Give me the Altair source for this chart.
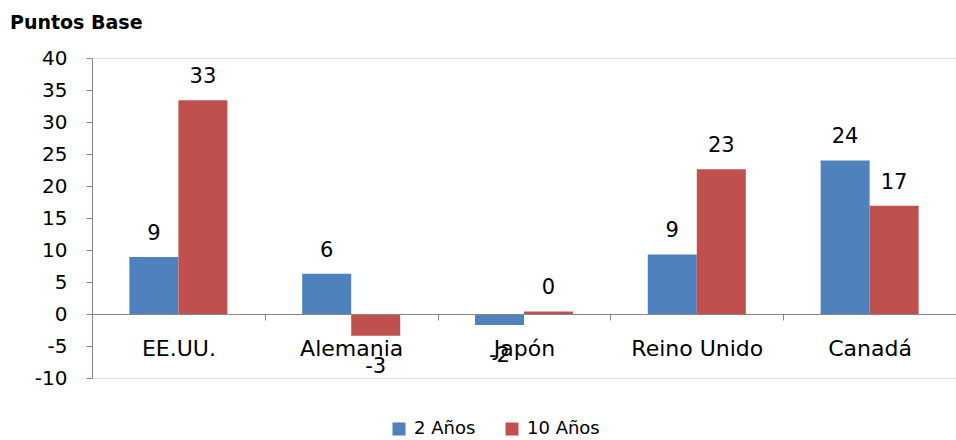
import altair as alt
import pandas as pd

paises = ["EE.UU.", "Alemania", "Japón", "Reino Unido", "Canadá"]
series = ["2 Años", "10 Años"]
dos_anos = [8.9, 6.3, -1.7, 9.3, 24.0]
diez_anos = [33.4, -3.4, 0.4, 22.6, 16.9]
colores = ["#4F81BD", "#C0504D"]

rows = []
for i, p in enumerate(paises):
    for s, vals in zip(series, [dos_anos, diez_anos]):
        v = vals[i]
        rows.append({"pais": p, "serie": s, "valor": v, "etiqueta": str(int(round(v)))})
df = pd.DataFrame(rows)

FONT = "DejaVu Sans"
GRAY = "#868686"

x = alt.X(
    "pais:N", sort=paises,
    scale=alt.Scale(paddingInner=0, paddingOuter=0),
    axis=alt.Axis(title=None, orient="bottom", offset=-64, tickBand="extent", labelAngle=0,
                  domainColor=GRAY, tickColor=GRAY, tickSize=6, labelPadding=18,
                  labelFontSize=22, labelFont=FONT, labelColor="black", zindex=1),
)
xo = alt.XOffset("serie:N", sort=series, scale=alt.Scale(paddingInner=0, paddingOuter=0.763))
y = alt.Y(
    "valor:Q",
    scale=alt.Scale(domain=[-10, 40], nice=False),
    axis=alt.Axis(title=None, values=list(range(-10, 45, 5)), grid=False, tickSize=6,
                  labelPadding=19, domainColor=GRAY, tickColor=GRAY, labelFontSize=20,
                  labelFont=FONT, labelColor="black", labelExpr="'' + datum.value"),
)

base = alt.Chart(df).encode(x=x, xOffset=xo, y=y)

bars = base.mark_bar().encode(
    color=alt.Color(
        "serie:N", sort=series,
        scale=alt.Scale(domain=series, range=colores),
        legend=alt.Legend(title=None, orient="none", legendX=298, legendY=362,
                          direction="horizontal", symbolType="square", symbolSize=169,
                          symbolStrokeWidth=0, labelFontSize=18, labelFont=FONT,
                          labelColor="black", labelOffset=6, columnPadding=27, padding=0),
    )
)

pos = base.transform_filter("datum.valor >= 0").mark_text(
    baseline="alphabetic", dy=-17, fontSize=21, font=FONT, color="black"
).encode(text="etiqueta:N")
neg = base.transform_filter("datum.valor < 0").mark_text(
    baseline="alphabetic", dy=37, fontSize=21, font=FONT, color="black"
).encode(text="etiqueta:N")

chart = alt.layer(bars, pos, neg).properties(
    width=864, height=320,
    title=alt.TitleParams("Puntos Base", anchor="start", frame="group", dx=-82,
                          fontSize=19, font=FONT, fontWeight="bold", color="black",
                          baseline="alphabetic", offset=0),
    autosize=alt.AutoSizeParams(type="none"),
    padding={"left": 92, "top": 58, "right": 0, "bottom": 62},
).configure_view(stroke=None).configure(background="white")

chart.save("out.html", embed_options={"renderer": "svg", "actions": False})
